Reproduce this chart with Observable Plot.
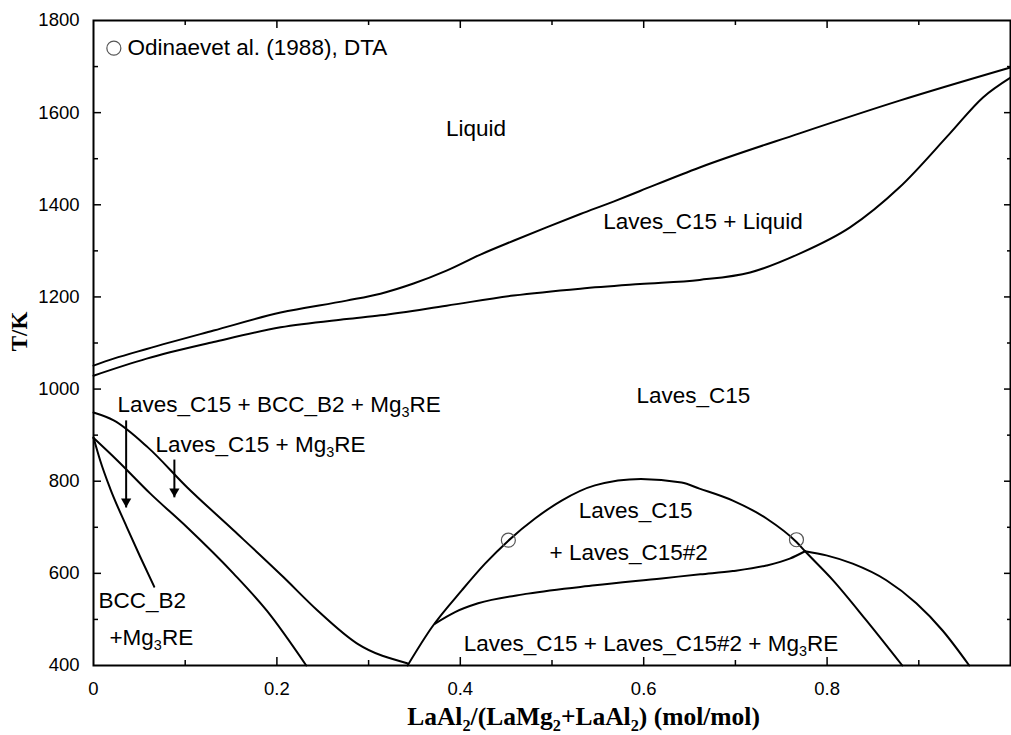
<!DOCTYPE html>
<html><head><meta charset="utf-8">
<script src="https://cdn.jsdelivr.net/npm/d3@7"></script>
<script src="https://cdn.jsdelivr.net/npm/@observablehq/plot@0.6"></script>
<style>body{margin:0;background:#fff;}</style>
</head><body><div id="chart"></div>
<script>
// ---- data (x = LaAl2 mole fraction, T in K) ----
const liquidus = [[0,1051],[0.022,1066],[0.058,1087],[0.131,1127],[0.204,1166],[0.276,1192],[0.313,1207],[0.349,1229],[0.385,1257],[0.422,1292],[0.458,1322],[0.494,1351],[0.531,1380],[0.567,1407],[0.596,1430],[0.661,1481],[0.770,1555],[0.879,1626],[1.0,1698]];
const solidus = [[0,1029],[0.058,1066],[0.131,1102],[0.204,1134],[0.276,1152],[0.313,1160],[0.385,1181],[0.458,1203],[0.531,1218],[0.596,1228],[0.661,1237],[0.716,1253],[0.770,1294],[0.825,1351],[0.879,1438],[0.934,1555],[0.970,1633],[1.0,1676]];
const c15BccMg3 = [[0,949],[0.022,932],[0.059,874],[0.102,787],[0.153,693],[0.207,592],[0.244,520],[0.288,447],[0.342,405]];
const c15Mg3 = [[0,894],[0.026,845],[0.062,773],[0.102,700],[0.1525,600],[0.189,519],[0.232,400]];
const bccMg3 = [[0,895],[0.0073,845],[0.0182,784],[0.0364,700],[0.0509,636],[0.0662,571]];
const miscibilityDome = [[0.3425,400],[0.369,483],[0.4016,563],[0.427,621],[0.4524,671],[0.4815,719],[0.5105,758],[0.5468,791],[0.597,805],[0.6413,797],[0.6608,784],[0.6972,758],[0.7339,719],[0.7666,668],[0.776,648],[0.806,586],[0.8428,498],[0.882,400]];
const c15c15Mg3 = [[0.3725,491],[0.3943,516],[0.4194,535],[0.4739,556],[0.5468,574],[0.6195,589],[0.6618,598],[0.6972,605],[0.7339,617],[0.7593,632],[0.776,648]];
const mg3Solvus = [[0.776,648],[0.7992,639],[0.8279,621],[0.8646,585],[0.8973,535],[0.9259,476],[0.955,400]];

const dtaX = [0.4524, 0.7666];
const dtaT = [672, 673];

const labelTexts = ["Liquid","Laves_C15 + Liquid","Laves_C15","Laves_C15 + BCC_B2 + Mg3RE","Laves_C15 + Mg3RE","BCC_B2","+Mg3RE","Laves_C15","+ Laves_C15#2","Laves_C15 + Laves_C15#2 + Mg3RE"];
const labelX = [0.3844, 0.5558, 0.5921, 0.0262, 0.0676, 0.0055, 0.0174, 0.5291, 0.4973, 0.4038];
const labelT = [1566, 1362, 986, 965, 878, 540, 460, 735, 644, 447];

const arrowX = [0.0356, 0.0882];
const arrowFrom = [932, 847];
const arrowTip = [743, 765];

const legendText = "Odinaevet al. (1988), DTA";
const legendX = 0.0222, legendTextX = 0.0371, legendT = 1740;

const xTickLabels = [0, 0.2, 0.4, 0.6, 0.8];
const yTickLabels = [400, 600, 800, 1000, 1200, 1400, 1600, 1800];
const xMajor = [0.2, 0.4, 0.6, 0.8];
const xMinor = [0.1, 0.3, 0.5, 0.7, 0.9];
const yMajor = [600, 800, 1000, 1200, 1400, 1600];
const yMinor = [500, 700, 900, 1100, 1300, 1500, 1700];

const xTitle = "LaAl2/(LaMg2+LaAl2) (mol/mol)";
const yTitle = "T/K";
const xTitleX = 0.5344, yTitleT = 1125;

// ---- build ----
const curves = {liquidus, solidus, c15BccMg3, c15Mg3, bccMg3, miscibilityDome, c15c15Mg3, mg3Solvus};
const rows = Object.entries(curves).flatMap(([name, pts]) => pts.map(([x, T]) => ({name, x, T})));
const labels = labelTexts.map((t, i) => ({t, x: labelX[i], T: labelT[i]}));
const dta = dtaX.map((x, i) => ({x, T: dtaT[i]}));
const arrows = arrowX.map((x, i) => ({x, T1: arrowFrom[i], T2: arrowTip[i]}));

const W = 1011, H = 735, ml = 93, mr = 1, mt = 20, mb = 70;
const iw = W - ml - mr, ih = H - mt - mb;
const sans = "Liberation Sans, Arial, sans-serif";
const serif = "Liberation Serif, Times New Roman, serif";

const plot = Plot.plot({
  width: W, height: H,
  marginLeft: ml, marginRight: mr, marginTop: mt, marginBottom: mb,
  style: {fontFamily: sans, fontSize: "18.5px", background: "white", color: "black"},
  x: {domain: [0, 1]},
  y: {domain: [400, 1800]},
  marks: [
    Plot.axisX(xTickLabels, {tickSize: 0, tickPadding: 16, label: null, tickFormat: d => String(d), fontSize: 18.5}),
    Plot.axisY(yTickLabels, {tickSize: 0, tickPadding: 14, label: null, tickFormat: d => String(d), fontSize: 18.5}),
    // inward ticks
    Plot.tickX(xMajor, {x: d => d, insetTop: ih - 8, stroke: "black", strokeWidth: 1.5}),
    Plot.tickX(xMinor, {x: d => d, insetTop: ih - 5, stroke: "black", strokeWidth: 1.5}),
    Plot.tickX(xMajor, {x: d => d, insetBottom: ih - 8, stroke: "black", strokeWidth: 1.5}),
    Plot.tickX(xMinor, {x: d => d, insetBottom: ih - 5, stroke: "black", strokeWidth: 1.5}),
    Plot.tickY(yMajor, {y: d => d, insetRight: iw - 8, stroke: "black", strokeWidth: 1.5}),
    Plot.tickY(yMinor, {y: d => d, insetRight: iw - 5, stroke: "black", strokeWidth: 1.5}),
    Plot.tickY(yMajor, {y: d => d, insetLeft: iw - 6, stroke: "black", strokeWidth: 1.5}),
    Plot.tickY(yMinor, {y: d => d, insetLeft: iw - 3, stroke: "black", strokeWidth: 1.5}),
    Plot.line(rows, {x: "x", y: "T", z: "name", curve: "monotone-x", stroke: "black", strokeWidth: 2}),
    Plot.link(arrows, {x1: "x", x2: "x", y1: "T1", y2: "T2", stroke: "black", strokeWidth: 2}),
    Plot.dot(arrows, {x: "x", y: "T2", symbol: "triangle", r: 3.8, fill: "black", stroke: "none", rotate: 180, dy: -5.9}),
    Plot.dot(dta, {x: "x", y: "T", r: 7, stroke: "#555", strokeWidth: 1.2, fill: "none"}),
    Plot.dot([legendT], {x: () => legendX, y: d => d, r: 7, stroke: "#555", strokeWidth: 1.2, fill: "none"}),
    Plot.text([legendText], {x: () => legendTextX, y: () => legendT, text: d => d, textAnchor: "start", lineAnchor: "middle", fontSize: 22.5, fill: "black"}),
    Plot.text(labels, {x: "x", y: "T", text: "t", textAnchor: "start", lineAnchor: "middle", fontSize: 22.5, fill: "black"}),
    Plot.text([xTitle], {x: () => xTitleX, frameAnchor: "bottom", text: d => d, textAnchor: "middle", lineAnchor: "middle", dy: 51.5, fontSize: 25.5, fontWeight: "bold", fontFamily: serif, fill: "black"}),
    Plot.text([yTitle], {y: () => yTitleT, frameAnchor: "left", text: d => d, textAnchor: "middle", lineAnchor: "middle", rotate: -90, dx: -74, fontSize: 23, fontWeight: "bold", fontFamily: serif, fill: "black"}),
    Plot.frame({stroke: "black", strokeWidth: 2})
  ]
});
document.getElementById("chart").appendChild(plot);

// subscripts (Mg3, Al2, Mg2)
d3.select(plot).selectAll("text").each(function () {
  const t = this.textContent;
  if (!/(Mg|Al)\d/.test(t) || this.querySelector("tspan")) return;
  const fs = parseFloat(getComputedStyle(this).fontSize) || 20;
  const parts = t.split(/((?:Mg|Al)\d)/).filter(p => p.length);
  const sel = d3.select(this);
  sel.text(null);
  let pending = 0;
  for (const p of parts) {
    const m = p.match(/^(Mg|Al)(\d)$/);
    if (m) {
      sel.append("tspan").attr("dy", pending ? -pending : null).text(m[1]);
      const shift = 0.22 * fs;
      sel.append("tspan").attr("dy", shift).attr("font-size", (0.64 * fs) + "px").text(m[2]);
      pending = shift;
    } else {
      sel.append("tspan").attr("dy", pending ? -pending : null).text(p);
      pending = 0;
    }
  }
});
</script></body></html>
